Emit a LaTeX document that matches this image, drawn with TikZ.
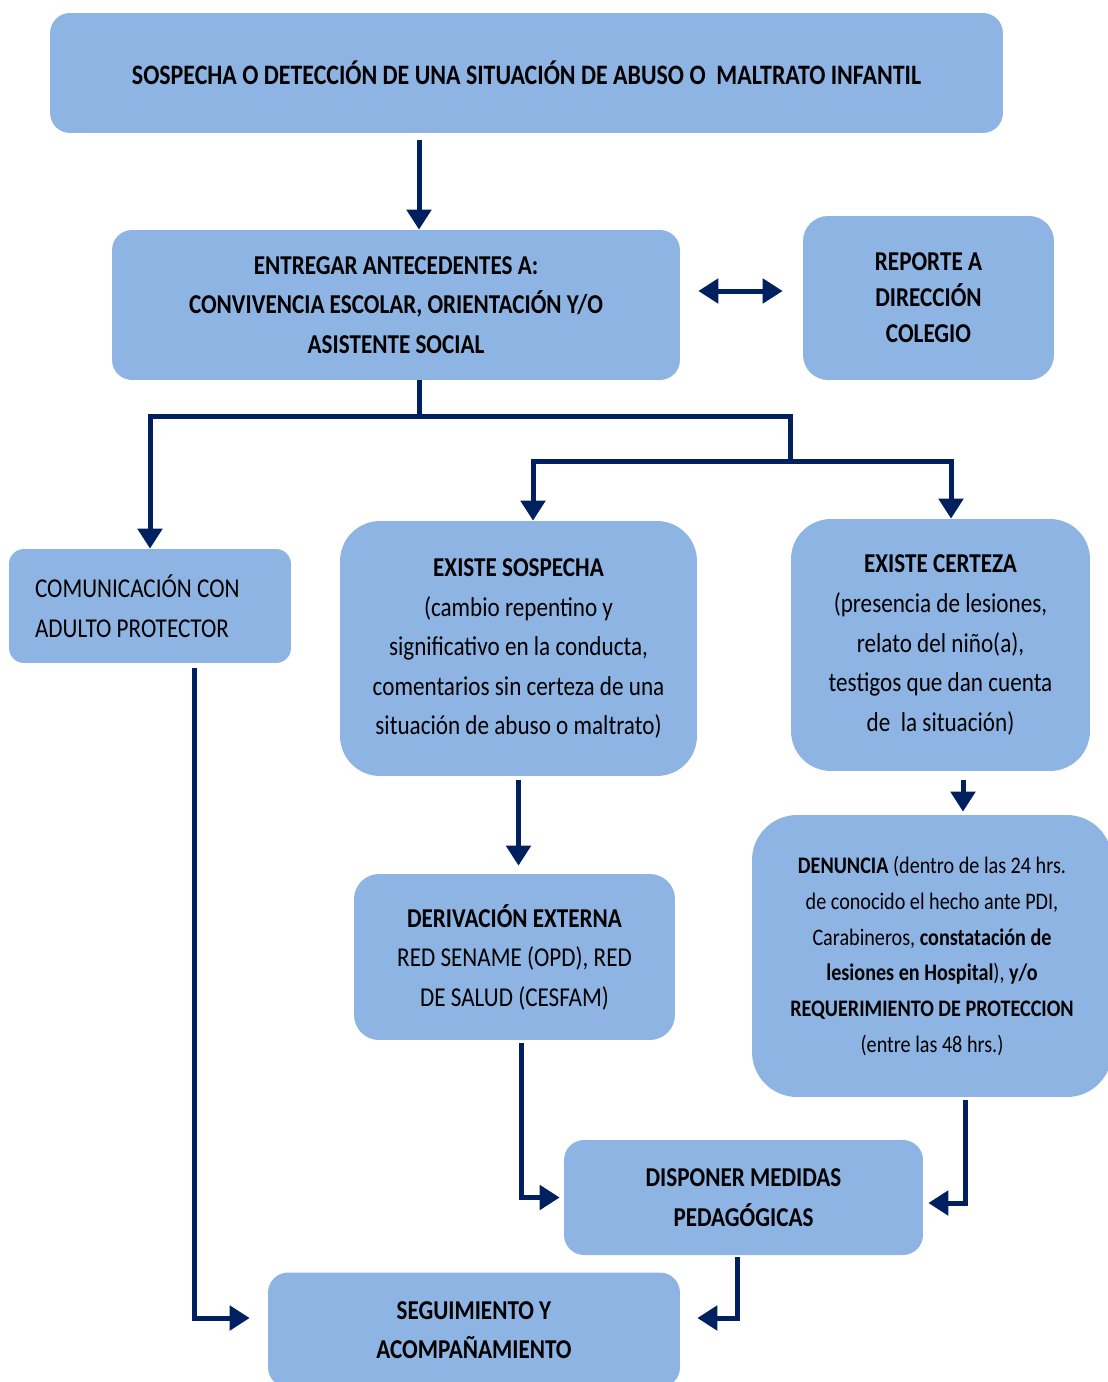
\documentclass[tikz,border=0pt]{standalone}
\usepackage{fontspec}
\setmainfont{Carlito}[FakeStretch=0.85]
\usetikzlibrary{arrows.meta,positioning}
\definecolor{boxblue}{HTML}{8EB4E3}
\definecolor{navy}{HTML}{002060}

\begin{document}
\begin{tikzpicture}[
    x=0.02cm, y=-0.02cm,
    box/.style={rectangle, fill=boxblue, rounded corners=0.4cm, align=center, inner sep=0pt, font=\fontsize{15.5}{22.5}\selectfont},
    bigbox/.style={box, rounded corners=0.8cm},
    line/.style={line width=0.1cm, draw=navy},
    arrow/.style={line, -{Triangle[length=0.4cm,width=0.48cm]}},
    dblarrow/.style={line, {Triangle[length=0.4cm,width=0.48cm]}-{Triangle[length=0.4cm,width=0.48cm]}}
  ]
    \useasboundingbox (0,0) rectangle (1108,1382);

    \node[box, minimum width=19.06cm, minimum height=2.4cm, font=\fontsize{16}{22.5}\selectfont] (detect) at (526.5,73)
      {\textbf{SOSPECHA O DETECCIÓN DE UNA SITUACIÓN DE ABUSO O \ MALTRATO INFANTIL}};

    \node[box, minimum width=11.36cm, minimum height=3cm] (entregar) at (396,305)
      {\textbf{ENTREGAR ANTECEDENTES A:}\\\textbf{CONVIVENCIA ESCOLAR, ORIENTACIÓN Y/O}\\\textbf{ASISTENTE SOCIAL}};
    \node[box, rounded corners=0.5cm, minimum width=5.02cm, minimum height=3.28cm,
      font=\fontsize{15.5}{20.5}\selectfont] (reporte) at (928.5,298)
      {\textbf{REPORTE A}\\\textbf{DIRECCIÓN}\\\textbf{COLEGIO}};

    \node[box, rounded corners=0.3cm, minimum width=5.64cm, minimum height=2.28cm,
      align=flush left, text width=4.6cm] (comun) at (150,606)
      {COMUNICACIÓN CON\\ADULTO PROTECTOR};
    \node[bigbox, minimum width=7.14cm, minimum height=5.1cm] (sospecha) at (518.5,648.5)
      {\textbf{EXISTE SOSPECHA}\\(cambio repentino y\\significativo en la conducta,\\comentarios sin certeza de una\\situación de abuso o maltrato)};
    \node[bigbox, minimum width=5.98cm, minimum height=5.04cm] (certeza) at (940.5,645)
      {\textbf{EXISTE CERTEZA}\\(presencia de lesiones,\\relato del niño(a),\\testigos que dan cuenta\\de \ la situación)};

    \node[box, rounded corners=0.5cm, minimum width=6.42cm, minimum height=3.32cm] (deriv) at (514.5,957)
      {\textbf{DERIVACIÓN EXTERNA}\\RED SENAME (OPD), RED\\DE SALUD (CESFAM)};
    \node[bigbox, rounded corners=0.9cm, minimum width=7.2cm, minimum height=5.64cm,
      font=\fontsize{13.5}{20.4}\selectfont] (denuncia) at (932,956)
      {\textbf{DENUNCIA} (dentro de las 24 hrs.\\de conocido el hecho ante PDI,\\Carabineros, \textbf{constatación de}\\\textbf{lesiones en Hospital}), \textbf{y/o}\\\textbf{REQUERIMIENTO DE PROTECCION}\\(entre las 48 hrs.)};

    \node[box, minimum width=7.18cm, minimum height=2.3cm] (disponer) at (743.5,1197.5)
      {\textbf{DISPONER MEDIDAS}\\\textbf{PEDAGÓGICAS}};
    \node[box, minimum width=8.24cm, minimum height=2.3cm] (seguim) at (474,1330)
      {\textbf{SEGUIMIENTO Y}\\\textbf{ACOMPAÑAMIENTO}};

    % split points
    \coordinate (split) at (419,416);
    \coordinate (splitR) at (790,461);
    \coordinate (sL) at (533,461);
    \coordinate (sR) at (951,461);

    \draw[arrow, shorten <=0.14cm] (detect.south -| split) -- (entregar.north -| split);
    \draw[dblarrow, shorten <=0.36cm, shorten >=0.4cm] ([yshift=0.28cm]entregar.east) -- ([yshift=0.28cm]entregar.east -| reporte.west);

    \draw[arrow] (entregar.south -| split) -- (split) -| (comun.north);
    \draw[line] (split) -| (splitR);
    \draw[arrow] (splitR) -- (sL) -- (sospecha.north -| sL);
    \draw[arrow] (splitR) -- (sR) -- (certeza.north -| sR);

    \draw[arrow, shorten <=0.08cm, shorten >=0.16cm] (sospecha.south) -- (sospecha.south |- deriv.north);
    \draw[arrow, shorten <=0.18cm, shorten >=0.06cm] ([xshift=0.45cm]certeza.south) -- ([xshift=0.45cm]certeza.south |- denuncia.north);

    \draw[arrow, shorten <=0.1cm, shorten >=0.36cm] ([xshift=0.9cm]comun.south) |- ([yshift=0.24cm]seguim.west);
    \draw[arrow, shorten <=0.06cm, shorten >=0.08cm] ([xshift=0.13cm]deriv.south) |- (disponer.west);
    \draw[arrow, shorten <=0.06cm, shorten >=0.1cm] ([xshift=0.66cm]denuncia.south) |- ([yshift=-0.11cm]disponer.east);
    \draw[arrow, shorten <=0.04cm, shorten >=0.34cm] ([xshift=-0.13cm]disponer.south) |- ([yshift=0.24cm]seguim.east);

  \end{tikzpicture}
\end{document}
